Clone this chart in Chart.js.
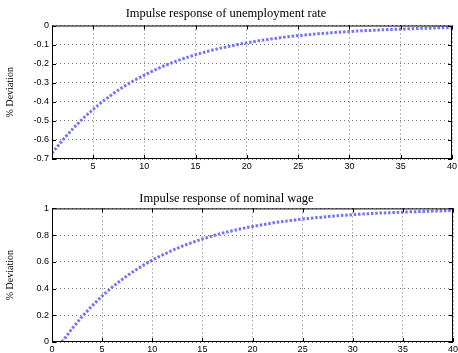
<!DOCTYPE html>
<html>
<head>
<meta charset="utf-8">
<script src="https://cdn.jsdelivr.net/npm/chart.js@4"></script>
<style>
  html, body { margin: 0; padding: 0; background: #fff; }
  #wrap { position: relative; width: 458px; height: 353px; }
  canvas { position: absolute; left: 0; }
</style>
</head>
<body>
<div id="wrap">
  <canvas id="unemp-chart" width="458" height="180" style="top:0"></canvas>
  <canvas id="wage-chart" width="458" height="173" style="top:180px"></canvas>
</div>
<script>
const periods = [1, 2, 3, 4, 5, 6, 7, 8, 9, 10, 11, 12, 13, 14, 15, 16, 17, 18, 19, 20,
                 21, 22, 23, 24, 25, 26, 27, 28, 29, 30, 31, 32, 33, 34, 35, 36, 37, 38, 39, 40];
const unemployment = [-0.670, -0.603, -0.543, -0.488, -0.440, -0.396, -0.356, -0.320, -0.288, -0.260,
                      -0.234, -0.210, -0.189, -0.170, -0.153, -0.138, -0.124, -0.112, -0.101, -0.091,
                      -0.081, -0.073, -0.066, -0.059, -0.053, -0.048, -0.043, -0.039, -0.035, -0.032,
                      -0.028, -0.026, -0.023, -0.021, -0.019, -0.017, -0.015, -0.014, -0.012, -0.011];
const wage = [0.000, 0.100, 0.190, 0.271, 0.344, 0.410, 0.469, 0.522, 0.570, 0.613,
              0.651, 0.686, 0.718, 0.746, 0.771, 0.794, 0.815, 0.833, 0.850, 0.865,
              0.878, 0.891, 0.902, 0.911, 0.920, 0.928, 0.935, 0.942, 0.948, 0.953,
              0.958, 0.962, 0.966, 0.969, 0.972, 0.975, 0.977, 0.980, 0.982, 0.984];
const unempTicksX = [5, 10, 15, 20, 25, 30, 35, 40];
const unempTicksY = [0, -0.1, -0.2, -0.3, -0.4, -0.5, -0.6, -0.7];
const wageTicksX = [0, 5, 10, 15, 20, 25, 30, 35, 40];
const wageTicksY = [0, 0.2, 0.4, 0.6, 0.8, 1];

const lineColor = '#7474fa';
const gridColor = 'rgba(0,0,0,0.55)';
const tickFont = { family: 'Liberation Sans', size: 9 };
const serif = 'Liberation Serif';

// black box round the plot area, with inward tick marks on all sides
const framePlugin = {
    id: 'frame',
    afterDraw(chart) {
        const { ctx, chartArea: a, scales: { x, y } } = chart;
        ctx.save();
        ctx.strokeStyle = '#000';
        ctx.lineWidth = 1;
        ctx.beginPath();
        x.ticks.forEach(function (t) {
            const px = Math.round(x.getPixelForValue(t.value)) + 0.5;
            ctx.moveTo(px, a.bottom); ctx.lineTo(px, a.bottom - 4);
            ctx.moveTo(px, a.top); ctx.lineTo(px, a.top + 4);
        });
        y.ticks.forEach(function (t) {
            const py = Math.round(y.getPixelForValue(t.value)) + 0.5;
            ctx.moveTo(a.left, py); ctx.lineTo(a.left + 4, py);
            ctx.moveTo(a.right, py); ctx.lineTo(a.right - 4, py);
        });
        ctx.stroke();
        ctx.strokeRect(a.left + 0.5, a.top + 0.5, a.right - a.left - 1, a.bottom - a.top - 1);
        ctx.restore();
    }
};

function makeChart(id, title, values, xMin, yMin, yMax, ticksX, ticksY, pad) {
    const ctx = document.getElementById(id).getContext('2d');
    return new Chart(ctx, {
        type: 'line',
        data: {
            datasets: [{
                data: periods.map(function (p, i) { return { x: p, y: values[i] }; }),
                borderColor: lineColor,
                borderWidth: 3,
                borderDash: [2.5, 1.8],
                borderCapStyle: 'butt',
                pointRadius: 0,
                tension: 0,
                fill: false
            }]
        },
        options: {
            responsive: false,
            animation: false,
            layout: { padding: { left: 0, right: pad.right, top: 0, bottom: 0 } },
            plugins: {
                legend: { display: false },
                tooltip: { enabled: false },
                title: {
                    display: true,
                    text: title,
                    color: '#000',
                    font: { family: serif, size: 12.5, weight: 'normal' },
                    padding: { top: pad.titleTop, bottom: pad.titleBottom }
                }
            },
            scales: {
                x: {
                    type: 'linear',
                    min: xMin,
                    max: 40,
                    afterBuildTicks: function (s) { s.ticks = ticksX.map(function (v) { return { value: v }; }); },
                    afterFit: function (s) { s.height = pad.xHeight; s.paddingLeft = 0; s.paddingRight = 0; },
                    ticks: { color: '#000', font: tickFont, padding: 2, maxRotation: 0,
                             callback: function (v) { return String(v); } },
                    grid: { color: gridColor, lineWidth: 1, drawTicks: false },
                    border: { display: false, dash: [1, 3] }
                },
                y: {
                    min: yMin,
                    max: yMax,
                    afterBuildTicks: function (s) { s.ticks = ticksY.map(function (v) { return { value: v }; }); },
                    afterFit: function (s) { s.width = 52; },
                    ticks: { color: '#000', font: tickFont, padding: 3,
                             callback: function (v) { return String(v); } },
                    grid: { color: gridColor, lineWidth: 1, drawTicks: false },
                    border: { display: false, dash: [1, 3] },
                    title: {
                        display: true,
                        text: '% Deviation',
                        color: '#000',
                        font: { family: serif, size: 10 },
                        padding: { top: 4, bottom: 0 }
                    }
                }
            }
        },
        plugins: [framePlugin]
    });
}

makeChart('unemp-chart', 'Impulse response of unemployment rate', unemployment, 1, -0.7, 0,
          unempTicksX, unempTicksY, { right: 6, titleTop: 6, titleBottom: 4.5, xHeight: 21 });
makeChart('wage-chart', 'Impulse response of nominal wage', wage, 0, 0, 1,
          wageTicksX, wageTicksY, { right: 5, titleTop: 11.6, titleBottom: 1.8, xHeight: 11 });
</script>
</body>
</html>
